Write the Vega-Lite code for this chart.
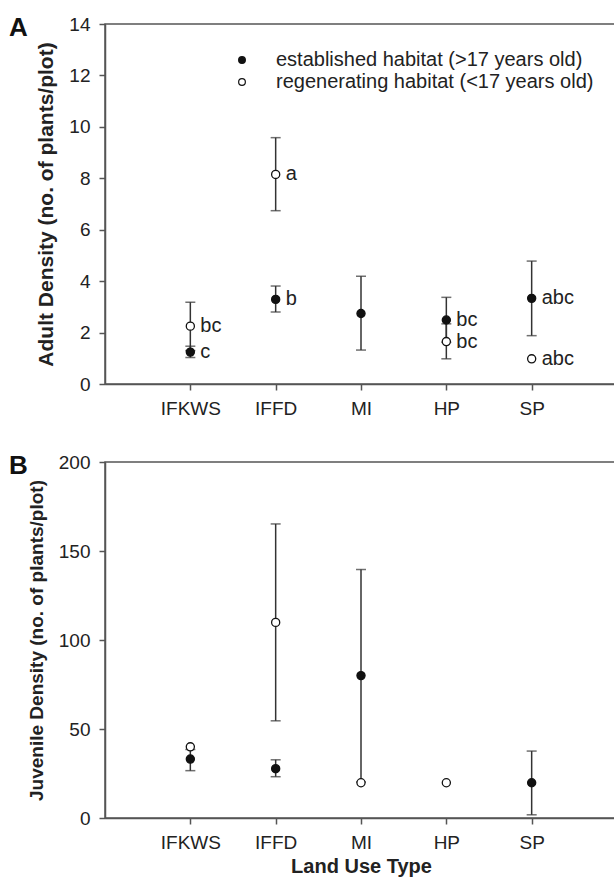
{
  "$schema": "https://vega.github.io/schema/vega-lite/v6.json",
  "padding": {"left": 8, "top": 14, "right": 0, "bottom": 0},
  "spacing": 33,
  "config": {
    "font": "Liberation Sans",
    "view": {"stroke": "#555", "strokeWidth": 1.5},
    "axis": {
      "grid": false,
      "domainColor": "#555",
      "domainWidth": 1.5,
      "tickColor": "#555",
      "tickWidth": 1.5,
      "tickSize": 6,
      "labelFont": "Liberation Sans",
      "labelFontSize": 19,
      "labelColor": "#222",
      "labelPadding": 9,
      "titleFont": "Liberation Sans",
      "titleFontSize": 20,
      "titleFontWeight": "bold",
      "titleColor": "#222",
      "titlePadding": 12
    },
    "title": {"font": "Liberation Sans", "fontSize": 26, "fontWeight": "bold", "color": "#111", "anchor": "start", "frame": "group"}
  },
  "datasets": {
    "adult": [
      {"site": "IFKWS", "habitat": "established habitat (>17 years old)", "mean": 1.24, "lo": 1.03, "hi": 1.47, "label": "c"},
      {"site": "IFKWS", "habitat": "regenerating habitat (<17 years old)", "mean": 2.25, "lo": 1.3, "hi": 3.18, "label": "bc"},
      {"site": "IFFD", "habitat": "established habitat (>17 years old)", "mean": 3.29, "lo": 2.8, "hi": 3.81, "label": "b"},
      {"site": "IFFD", "habitat": "regenerating habitat (<17 years old)", "mean": 8.15, "lo": 6.74, "hi": 9.58, "label": "a"},
      {"site": "MI", "habitat": "established habitat (>17 years old)", "mean": 2.74, "lo": 1.32, "hi": 4.19, "label": null},
      {"site": "HP", "habitat": "established habitat (>17 years old)", "mean": 2.49, "lo": 1.62, "hi": 3.37, "label": "bc"},
      {"site": "HP", "habitat": "regenerating habitat (<17 years old)", "mean": 1.65, "lo": 0.98, "hi": 2.34, "label": "bc"},
      {"site": "SP", "habitat": "established habitat (>17 years old)", "mean": 3.33, "lo": 1.88, "hi": 4.78, "label": "abc"},
      {"site": "SP", "habitat": "regenerating habitat (<17 years old)", "mean": 0.98, "lo": null, "hi": null, "label": "abc"}
    ],
    "juvenile": [
      {"site": "IFKWS", "habitat": "established habitat (>17 years old)", "mean": 33.1, "lo": 26.6, "hi": 38.5},
      {"site": "IFKWS", "habitat": "regenerating habitat (<17 years old)", "mean": 40.0, "lo": null, "hi": null},
      {"site": "IFFD", "habitat": "established habitat (>17 years old)", "mean": 27.7, "lo": 23.2, "hi": 32.7},
      {"site": "IFFD", "habitat": "regenerating habitat (<17 years old)", "mean": 109.9, "lo": 54.6, "hi": 165.2},
      {"site": "MI", "habitat": "established habitat (>17 years old)", "mean": 80.0, "lo": 20.2, "hi": 139.6},
      {"site": "MI", "habitat": "regenerating habitat (<17 years old)", "mean": 19.8, "lo": null, "hi": null},
      {"site": "HP", "habitat": "regenerating habitat (<17 years old)", "mean": 19.8, "lo": null, "hi": null},
      {"site": "SP", "habitat": "established habitat (>17 years old)", "mean": 19.8, "lo": 1.8, "hi": 37.6}
    ]
  },
  "resolve": {"scale": {"fill": "independent"}, "legend": {"fill": "independent"}},
  "vconcat": [
    {
      "width": 512,
      "height": 360,
      "title": {"text": "A", "dx": -96, "dy": 30},
      "data": {"name": "adult"},
      "encoding": {
        "x": {"field": "site", "type": "nominal", "sort": ["IFKWS", "IFFD", "MI", "HP", "SP"], "scale": {"type": "point", "padding": 1}, "axis": {"title": null, "labelAngle": 0}}
      },
      "layer": [
        {
          "transform": [{"filter": "datum.lo != null"}],
          "mark": {"type": "rule", "color": "#333", "strokeWidth": 1.5},
          "encoding": {
            "y": {"field": "lo", "type": "quantitative", "scale": {"domain": [0, 14], "nice": false}, "axis": {"title": "Adult Density (no. of plants/plot)", "titleFontSize": 21, "values": [0, 2, 4, 6, 8, 10, 12, 14]}},
            "y2": {"field": "hi"}
          }
        },
        {
          "transform": [{"filter": "datum.lo != null"}],
          "mark": {"type": "tick", "color": "#333", "size": 10, "thickness": 1.5},
          "encoding": {"y": {"field": "lo", "type": "quantitative"}}
        },
        {
          "transform": [{"filter": "datum.hi != null"}],
          "mark": {"type": "tick", "color": "#333", "size": 10, "thickness": 1.5},
          "encoding": {"y": {"field": "hi", "type": "quantitative"}}
        },
        {
          "mark": {"type": "point", "filled": true, "stroke": "#111", "strokeWidth": 1.3, "size": 66, "opacity": 1, "shape": "circle"},
          "encoding": {
            "y": {"field": "mean", "type": "quantitative"},
            "fill": {
              "field": "habitat", "type": "nominal",
              "scale": {"domain": ["established habitat (>17 years old)", "regenerating habitat (<17 years old)"], "range": ["#111", "white"]},
              "legend": {
                "title": null, "orient": "none", "legendX": 127, "legendY": 26,
                "labelFontSize": 20, "labelFont": "Liberation Sans", "labelColor": "#222", "labelLimit": 0,
                "symbolType": "circle", "symbolSize": 45, "symbolStrokeColor": "#111", "symbolStrokeWidth": 1.2,
                "labelOffset": 24, "rowPadding": 2, "symbolOpacity": 1
              }
            }
          }
        },
        {
          "transform": [{"filter": "datum.label != null"}],
          "mark": {"type": "text", "align": "left", "baseline": "middle", "dx": 10, "fontSize": 20, "color": "#222", "font": "Liberation Sans"},
          "encoding": {
            "y": {"field": "mean", "type": "quantitative"},
            "text": {"field": "label", "type": "nominal"}
          }
        }
      ]
    },
    {
      "width": 512,
      "height": 356,
      "title": {"text": "B", "dx": -96, "dy": 30},
      "data": {"name": "juvenile"},
      "encoding": {
        "x": {"field": "site", "type": "nominal", "sort": ["IFKWS", "IFFD", "MI", "HP", "SP"], "scale": {"type": "point", "padding": 1}, "axis": {"title": "Land Use Type", "labelAngle": 0, "titlePadding": 4}}
      },
      "layer": [
        {
          "transform": [{"filter": "datum.lo != null"}],
          "mark": {"type": "rule", "color": "#333", "strokeWidth": 1.5},
          "encoding": {
            "y": {"field": "lo", "type": "quantitative", "scale": {"domain": [0, 200], "nice": false}, "axis": {"title": "Juvenile Density (no. of plants/plot)", "titleFontSize": 19, "values": [0, 50, 100, 150, 200]}},
            "y2": {"field": "hi"}
          }
        },
        {
          "transform": [{"filter": "datum.lo != null"}],
          "mark": {"type": "tick", "color": "#333", "size": 10, "thickness": 1.5},
          "encoding": {"y": {"field": "lo", "type": "quantitative"}}
        },
        {
          "transform": [{"filter": "datum.hi != null"}],
          "mark": {"type": "tick", "color": "#333", "size": 10, "thickness": 1.5},
          "encoding": {"y": {"field": "hi", "type": "quantitative"}}
        },
        {
          "mark": {"type": "point", "filled": true, "stroke": "#111", "strokeWidth": 1.3, "size": 66, "opacity": 1, "shape": "circle"},
          "encoding": {
            "y": {"field": "mean", "type": "quantitative"},
            "fill": {
              "field": "habitat", "type": "nominal",
              "scale": {"domain": ["established habitat (>17 years old)", "regenerating habitat (<17 years old)"], "range": ["#111", "white"]},
              "legend": null
            }
          }
        }
      ]
    }
  ]
}
